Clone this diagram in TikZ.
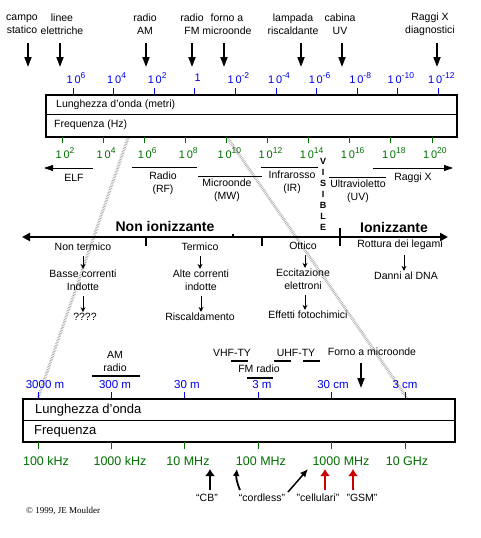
\documentclass[tikz,border=0pt]{standalone}
\usepackage{fontspec}
\setmainfont{Liberation Sans}
\newfontfamily\moulderfont{Liberation Serif}
\usepackage{tikz}
\usetikzlibrary{arrows.meta}
\definecolor{wlblue}{RGB}{0,0,235}
\definecolor{fqgreen}{RGB}{0,110,0}
\definecolor{gsmred}{RGB}{205,0,0}
\newcommand{\pw}[1]{1\,0\raisebox{0.75ex}{\fontsize{8.5}{9}\selectfont #1}}

\begin{document}
\begin{tikzpicture}[x=1pt, y=-1pt,
        lbl/.style={font=\fontsize{10.5}{13}\selectfont, align=center, inner sep=0pt},
        big/.style={font=\fontsize{13}{15}\selectfont, inner sep=0pt},
        wl/.style={font=\fontsize{11}{12}\selectfont, text=wlblue, inner sep=0pt},
        fq/.style={font=\fontsize{11}{12}\selectfont, text=fqgreen, inner sep=0pt},
        hatch/.style={gray!70, line width=3pt, dash pattern=on 0.6pt off 1pt},
        pointer/.style={line width=1.8pt, -{Triangle[width=7pt,length=10pt]}},
        uparrow/.style={line width=2.4pt, -{Latex[width=10pt,length=7pt]}},
        flow/.style={line width=0.9pt, -{Stealth[width=5pt,length=5pt]}, shorten <=5pt, shorten >=1pt},
        band/.style={line width=0.8pt},
        bar/.style={line width=2pt}]

        \useasboundingbox (0,0) rectangle (481,538);

        % links between the two scales
        \draw[hatch] (128,138) -- (38,398);
        \draw[hatch] (227,137) -- (407,398);

        % sources on top
        \node[lbl] (campo) at (22,24.5) {campo\\statico};
        \node[lbl] (linee) at (62,24.5) {linee\\elettriche};
        \node[lbl] (radioam) at (145,24.5) {radio\\AM};
        \node[lbl] (radiofm) at (192,24.5) {radio\\FM};
        \node[lbl] (forno) at (227,24.5) {forno a\\microonde};
        \node[lbl] (lampada) at (293,24.5) {lampada\\riscaldante};
        \node[lbl] (cabina) at (340,24.5) {cabina\\UV};
        \node[lbl] (raggi) at (430,24.5) {Raggi X\\diagnostici};
        \foreach \x in {28,60,146,192,224,301,342,437}
            \draw[pointer] (\x,43) -- (\x,67);

        % wavelength scale (top)
        \foreach \lab [count=\i from 0] in {{\pw{6}},{\pw{4}},{\pw{2}},{1},{\pw{-2}},{\pw{-4}},{\pw{-6}},{\pw{-8}},{\pw{-10}},{\pw{-12}}} {
            \draw[wlblue, line width=0.8pt] (73+40.6*\i,88) -- (73+40.6*\i,95);
            \node[wl] at (76+40.6*\i,78) {\lab};
        }

        \draw[line width=2.5pt] (46,95) rectangle (457,137);
        \draw[line width=0.8pt] (46,114) -- (457,114);
        \node[lbl, anchor=west] (lungtop) at (56,104.5) {Lunghezza d'onda (metri)};
        \node[lbl, anchor=west] (freqtop) at (54,124.5) {Frequenza (Hz)};

        % frequency scale (top)
        \foreach \lab [count=\i from 0] in {{\pw{2}},{\pw{4}},{\pw{6}},{\pw{8}},{\pw{10}},{\pw{12}},{\pw{14}},{\pw{16}},{\pw{18}},{\pw{20}}} {
            \draw[fqgreen, line width=0.8pt] (62+41.1*\i,137) -- (62+41.1*\i,143);
            \node[fq] at (65+41.1*\i,153) {\lab};
        }

        % bands
        \draw[band, -{Triangle[width=6pt,length=9pt]}] (93,168) -- (44,168);
        \node[lbl] (elf) at (74,178) {ELF};
        \draw[band] (132,167) -- (197,167);
        \node[lbl] (radio) at (163,183.5) {Radio\\(RF)};
        \draw[band] (198,176) -- (262,176);
        \node[lbl] (micro) at (227,190.5) {Microonde\\(MW)};
        \draw[band] (261,167) -- (318,167);
        \node[lbl] (infra) at (292,182.5) {Infrarosso\\(IR)};
        \draw[band] (329,177) -- (386,177);
        \node[lbl] (ultra) at (358,191) {Ultravioletto\\(UV)};
        \draw[band, -{Triangle[width=6pt,length=9pt]}] (373,168) -- (453,168);
        \node[lbl] (xray) at (413,178) {Raggi X};
        \foreach \c [count=\i from 0] in {V,I,S,I,B,L,E}
            \node[inner sep=0pt, font=\fontsize{9}{9}\bfseries] at (323,161+11*\i) {\c};

        % ionizing axis
        \draw[line width=2.5pt, {Triangle[width=8pt,length=8pt]}-{Triangle[width=8pt,length=8pt]}] (22,237) -- (448,237);
        \draw[line width=2pt] (146,237) -- (146,246);
        \draw[line width=2pt] (262,237) -- (262,246);
        \draw[line width=2pt] (340,228) -- (340,246);
        \draw[line width=2pt] (233,237) -- (233,234);
        \node[inner sep=0pt, font=\fontsize{14}{15}\bfseries] (nonion) at (165,226) {Non ionizzante};
        \node[inner sep=0pt, font=\fontsize{14}{15}\bfseries] (ion) at (394,227) {Ionizzante};

        \node[lbl] (nterm) at (83,247) {Non termico};
        \node[lbl] (basse) at (83,280.5) {Basse correnti\\Indotte};
        \node[lbl] (qmark) at (85,317) {????};
        \node[lbl] (term) at (200,247) {Termico};
        \node[lbl] (alte) at (201,280.5) {Alte correnti\\indotte};
        \node[lbl] (risc) at (200,317) {Riscaldamento};
        \node[lbl] (ottico) at (303,246) {Ottico};
        \node[lbl] (eccit) at (303,279.5) {Eccitazione\\elettroni};
        \node[lbl] (effetti) at (308,315) {Effetti fotochimici};
        \node[lbl] (rottura) at (400,245) {Rottura dei legami};
        \node[lbl] (dna) at (406,276) {Danni al DNA};

        \draw[flow] (nterm.south) -- (nterm.south |- basse.north);
        \draw[flow] (basse.south) -- (basse.south |- qmark.north);
        \draw[flow] (term.south) -- (term.south |- alte.north);
        \draw[flow] (alte.south) -- (alte.south |- risc.north);
        \draw[flow] ([xshift=2pt]ottico.south) -- ([xshift=2pt]ottico.south |- eccit.north);
        \draw[flow] ([xshift=2pt]eccit.south) -- ([xshift=2pt]eccit.south |- effetti.north);
        \draw[flow] ([xshift=4pt]rottura.south) -- ([xshift=4pt]rottura.south |- dna.north);

        % services (bottom)
        \node[lbl, font=\fontsize{10.5}{13}\selectfont] (amradio) at (115,361.5) {AM\\radio};
        \draw[bar] (92,376) -- (140,376);
        \node[lbl, font=\fontsize{10.5}{13}\selectfont] (vhf) at (232,353) {VHF-TY};
        \draw[bar] (231,361) -- (248,361);
        \node[lbl, font=\fontsize{10.5}{13}\selectfont] (fmradio) at (259,369) {FM radio};
        \draw[bar] (247,378) -- (273,378);
        \node[lbl, font=\fontsize{10.5}{13}\selectfont] (uhf) at (296,353) {UHF-TY};
        \draw[bar] (274,361) -- (291,361);
        \draw[bar] (303,361) -- (320,361);
        \node[lbl, font=\fontsize{10.5}{13}\selectfont] (fornomw) at (372,352) {Forno a microonde};
        \draw[pointer] (361,363) -- (361,388);

        % wavelength scale (bottom)
        \foreach \lab/\lx [count=\i from 0] in {3000 m/45,300 m/115,30 m/187,3 m/262,30 cm/333,3 cm/405} {
            \draw[wlblue, line width=0.8pt] (38+73.4*\i,392) -- (38+73.4*\i,399);
            \node[wl, font=\fontsize{11.5}{12}\selectfont] at (\lx,385) {\lab};
        }

        \draw[line width=2.5pt] (23,399) rectangle (455,442);
        \draw[line width=0.8pt] (23,420) -- (455,420);
        \node[big, anchor=west] (lungbot) at (35,410) {Lunghezza d'onda};
        \node[big, anchor=west] (freqbot) at (34,431) {Frequenza};

        % frequency scale (bottom)
        \foreach \lab/\lx [count=\i from 0] in {100 kHz/46,1000 kHz/120,10 MHz/188,100 MHz/261,1000 MHz/341,10 GHz/407} {
            \draw[fqgreen, line width=0.8pt] (38+73.4*\i,442) -- (38+73.4*\i,449);
            \node[fq, font=\fontsize{12.5}{14}\selectfont] at (\lx,461) {\lab};
        }

        % phones
        \node[lbl] (cb) at (207,498) {“CB”};
        \node[lbl] (cordless) at (262,498) {“cordless”};
        \node[lbl] (cellulari) at (318,498) {"cellulari"};
        \node[lbl] (gsm) at (362,498) {"GSM"};
        \draw[uparrow] (210,490) -- (210,469);
        \draw[line width=1.8pt, -{Latex[width=7pt,length=7pt]}] (240,490) to[bend left=15] (237,469);
        \draw[line width=1.5pt, -{Latex[width=7pt,length=8pt]}] (288,492) -- (308,469);
        \draw[uparrow, gsmred] (325,490) -- (325,469);
        \draw[uparrow, gsmred] (353,490) -- (353,469);

        \node[inner sep=0pt, anchor=west, font=\moulderfont\fontsize{9}{10}\selectfont] (credit) at (26,511) {\textcopyright\ 1999, JE Moulder};
    \end{tikzpicture}
\end{document}
